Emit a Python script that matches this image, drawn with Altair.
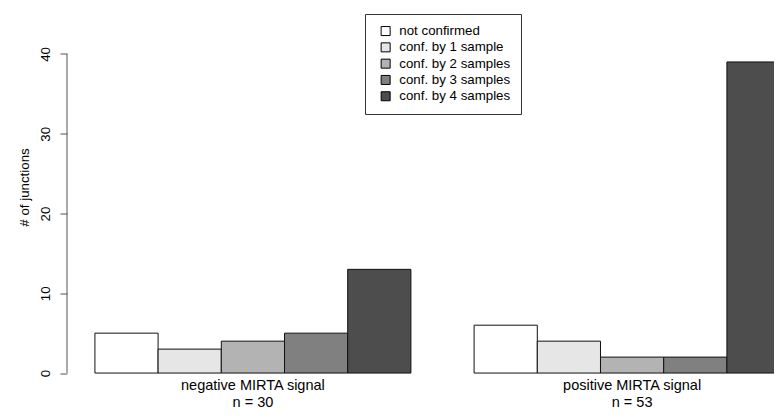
import altair as alt
import pandas as pd

# ---- data ----
groups = ["negative MIRTA signal\nn = 30", "positive MIRTA signal\nn = 53"]
categories = [
    "not confirmed",
    "conf. by 1 sample",
    "conf. by 2 samples",
    "conf. by 3 samples",
    "conf. by 4 samples",
]
negative_counts = [5, 3, 4, 5, 13]
positive_counts = [6, 4, 2, 2, 39]
fill_colors = ["#FFFFFF", "#E6E6E6", "#B3B3B3", "#808080", "#4D4D4D"]
y_ticks = [0, 10, 20, 30, 40]

rows = []
for g, counts in zip(groups, [negative_counts, positive_counts]):
    for c, v in zip(categories, counts):
        rows.append({"group": g, "category": c, "count": v})
df = pd.DataFrame(rows)

FONT = "Liberation Sans"
PLOT_W = 707
PLOT_H = 336

y_scale = alt.Scale(domain=[-1.56, 40.56], nice=False, zero=False)

bars = (
    alt.Chart(df)
    .mark_bar(stroke="#111111", strokeWidth=1, clip=True, opacity=1)
    .encode(
        x=alt.X(
            "group:N",
            sort=groups,
            scale=alt.Scale(range=[0, 751], paddingInner=1 / 6, paddingOuter=0.0736),
            axis=alt.Axis(
                title=None,
                domain=False,
                ticks=False,
                labelAngle=0,
                labelFontSize=14.5,
                labelFont=FONT,
                labelColor="black",
                labelPadding=3.6,
                labelBaseline="alphabetic",
                labelLineHeight=17,
                labelExpr="split(datum.label, '\\n')",
            ),
        ),
        xOffset=alt.XOffset(
            "category:N",
            sort=categories,
            scale=alt.Scale(domain=categories, paddingInner=0, paddingOuter=0),
        ),
        y=alt.Y(
            "count:Q",
            scale=y_scale,
            axis=alt.Axis(
                values=y_ticks,
                grid=False,
                domain=False,
                tickSize=7,
                tickColor="#555555",
                labelAngle=-90,
                labelAlign="center",
                labelBaseline="alphabetic",
                labelPadding=11,
                labelFontSize=13.3,
                labelFont=FONT,
                labelColor="black",
                title="# of junctions",
                titleFont=FONT,
                titleFontSize=13.3,
                titleFontWeight="normal",
                titleColor="black",
                titleAngle=-90,
                titleAlign="center",
                titleBaseline="alphabetic",
                titleX=-38.5,
                titleY=137.5,
            ),
        ),
        fill=alt.Fill(
            "category:N",
            sort=categories,
            scale=alt.Scale(domain=categories, range=fill_colors),
            legend=alt.Legend(
                orient="none",
                legendX=298,
                legendY=-35.5,
                title=None,
                symbolType="square",
                symbolSize=81,
                symbolStrokeColor="black",
                symbolStrokeWidth=1,
                symbolOpacity=1,
                labelFontSize=13.3,
                labelFont=FONT,
                labelColor="black",
                strokeColor="#333333",
                fillColor="white",
                padding=10.4,
                rowPadding=1.3,
                labelOffset=7,
                symbolOffset=3.6,
            ),
        ),
    )
)

axis_line = alt.Chart(pd.DataFrame({"lo": [y_ticks[0]], "hi": [y_ticks[-1]]})).mark_rule(
    color="#555555", strokeWidth=1
).encode(
    x=alt.value(0),
    y=alt.Y("lo:Q", scale=y_scale),
    y2="hi:Q",
)

chart = (
    alt.layer(bars, axis_line)
    .properties(
        width=PLOT_W,
        height=PLOT_H,
        autosize=alt.AutoSizeParams(type="none"),
        padding={"left": 59, "top": 41.5, "right": 0, "bottom": 24.5},
        background="white",
    )
    .configure_view(stroke=None)
)

chart.save("out.html", embed_options={"renderer": "svg", "actions": False})
